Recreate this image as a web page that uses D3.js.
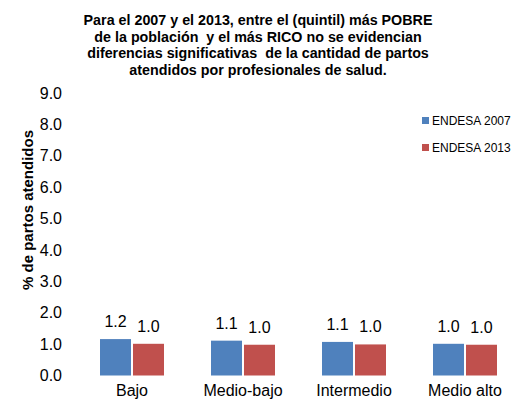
<!DOCTYPE html>
<html><head><meta charset="utf-8">
<script src="https://cdn.jsdelivr.net/npm/d3@7/dist/d3.min.js"></script>
<style>body{margin:0;background:#fff}svg{display:block;font-family:"Liberation Sans",Arial,sans-serif}text{white-space:pre}</style>
</head><body><svg id="c" width="517" height="404"></svg>
<script>
const categories = ["Bajo","Medio-bajo","Intermedio","Medio alto"];
const seriesNames = ["ENDESA 2007","ENDESA 2013"];
const values2007 = [1.16,1.11,1.07,1.01];
const values2013 = [1.01,0.98,0.99,0.98];
const yTicks = [0,1,2,3,4,5,6,7,8,9];
const titleLines = ["Para el 2007 y el 2013, entre el (quintil) más POBRE","de la población  y el más RICO no se evidencian","diferencias significativas  de la cantidad de partos","atendidos por profesionales de salud."];
const yTitle = "% de partos atendidos";
const colors = ["#4F81BD","#C0504D"];

const svg = d3.select("#c");
const x = d3.scaleBand().domain(categories).range([76.5,520.5]);
const y = d3.scaleLinear().domain([0,9]).range([375.5,93]);
const xs = d3.scaleBand().domain(seriesNames).range([0,64]).paddingInner(0.06);

// title
svg.append("g").selectAll("text").data(titleLines).join("text")
  .attr("x",258).attr("y",(d,i)=>25+i*16.7).attr("text-anchor","middle")
  .attr("font-size","14.3px").attr("font-weight","bold").attr("fill","#000").text(d=>d);

// y axis
const ya = d3.axisLeft(y).tickValues(yTicks).tickFormat(d3.format(".1f")).tickSize(0).tickPadding(0);
const yg = svg.append("g").attr("transform","translate(62,0)").call(ya);
yg.select(".domain").remove();
yg.selectAll("text").attr("font-size","16px").attr("fill","#000").attr("font-family","Liberation Sans, Arial, sans-serif");

svg.append("text").attr("transform","translate(33,210) rotate(-90)").attr("text-anchor","middle")
  .attr("font-size","15px").attr("font-weight","bold").text(yTitle);

// x axis
const xa = d3.axisBottom(x).tickSize(0).tickPadding(0);
const xg = svg.append("g").attr("transform","translate(0,385)").call(xa);
xg.select(".domain").remove();
xg.selectAll("text").attr("font-size","16px").attr("fill","#000").attr("font-family","Liberation Sans, Arial, sans-serif");

const series = [values2007, values2013];
series.forEach((vals,si)=>{
  const g = svg.append("g");
  g.selectAll("rect").data(categories).join("rect")
    .attr("x",(c)=>x(c)+x.bandwidth()/2-32+xs(seriesNames[si]))
    .attr("y",(c,i)=>y(vals[i])).attr("width",xs.bandwidth())
    .attr("height",(c,i)=>y(0)-y(vals[i])).attr("fill",colors[si]);
  g.selectAll("text").data(categories).join("text")
    .attr("x",(c)=>x(c)+x.bandwidth()/2-32+xs(seriesNames[si])+xs.bandwidth()/2)
    .attr("y",(c,i)=>y(vals[i])-12).attr("text-anchor","middle")
    .attr("font-size","16px").attr("fill","#000").text((c,i)=>d3.format(".1f")(vals[i]));
});

// legend
const lg = svg.append("g");
seriesNames.forEach((s,i)=>{
  lg.append("rect").attr("x",422).attr("y",117+i*27).attr("width",7).attr("height",7).attr("fill",colors[i]);
  lg.append("text").attr("x",432).attr("y",124.5+i*27).attr("font-size","12px").attr("fill","#000").text(s);
});
</script></body></html>
